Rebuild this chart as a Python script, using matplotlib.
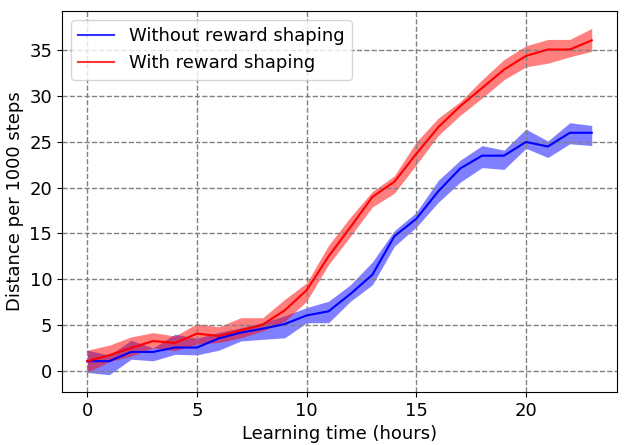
import matplotlib
matplotlib.use("Agg")
import matplotlib.pyplot as plt
import numpy as np

hours = list(range(24))

without_mean = [1.05, 1.05, 2.06, 2.06, 2.54, 2.54, 3.55, 4.17, 4.6, 5.1, 6.05, 6.5,
                8.4, 10.5, 14.7, 16.6, 19.6, 22.1, 23.5, 23.5, 25.0, 24.5, 26.0, 26.0]
without_low = [-0.18, -0.43, 1.27, 1.09, 1.8, 1.74, 2.25, 3.26, 3.44, 3.6, 5.25, 5.25,
               7.6, 9.4, 13.6, 15.7, 18.4, 20.6, 22.2, 22.0, 24.3, 23.3, 24.8, 24.6]
without_high = [2.25, 1.7, 3.33, 2.5, 4.0, 3.55, 4.2, 4.7, 5.25, 6.0, 6.9, 7.6,
                9.4, 11.9, 15.3, 17.3, 20.8, 23.0, 24.6, 24.1, 26.4, 25.1, 27.1, 26.8]

with_mean = [1.05, 1.7, 2.5, 3.25, 3.04, 4.06, 3.8, 4.42, 5.05, 6.6, 8.8, 12.5,
             15.7, 19.0, 20.65, 23.7, 26.6, 28.9, 30.9, 32.9, 34.4, 35.1, 35.1, 36.1]
with_low = [-0.18, 1.0, 1.6, 2.5, 2.2, 2.9, 3.1, 3.6, 4.35, 5.4, 7.6, 11.6,
            14.7, 17.9, 19.4, 22.5, 25.7, 27.9, 29.8, 31.8, 33.2, 33.6, 34.3, 34.9]
with_high = [2.25, 2.8, 3.7, 4.17, 3.8, 5.15, 4.8, 5.8, 5.8, 7.8, 9.6, 13.7,
             16.8, 19.6, 21.3, 25.0, 27.6, 29.4, 31.8, 34.0, 35.5, 36.2, 36.2, 37.4]

fig = plt.figure(figsize=(6.27, 4.45), dpi=100)
ax = fig.add_axes([0.099, 0.119, 0.885, 0.856])

ax.fill_between(hours, without_low, without_high, color="blue", alpha=0.5, linewidth=0)
ax.plot(hours, without_mean, color="blue", lw=1.5, label="Without reward shaping")
ax.fill_between(hours, with_low, with_high, color="red", alpha=0.5, linewidth=0)
ax.plot(hours, with_mean, color="red", lw=1.5, label="With reward shaping")

ax.grid(True, linestyle="--", color="gray", linewidth=1)
ax.set_xticks([0, 5, 10, 15, 20])
ax.set_yticks([0, 5, 10, 15, 20, 25, 30, 35])
ax.tick_params(labelsize=13)
ax.set_xlabel("Learning time (hours)", fontsize=13)
ax.set_ylabel("Distance per 1000 steps", fontsize=13)
leg = ax.legend(loc="upper left", fontsize=13)
for line in leg.get_lines():
    line.set_alpha(0.8)

fig.savefig("out.png", dpi=100)
